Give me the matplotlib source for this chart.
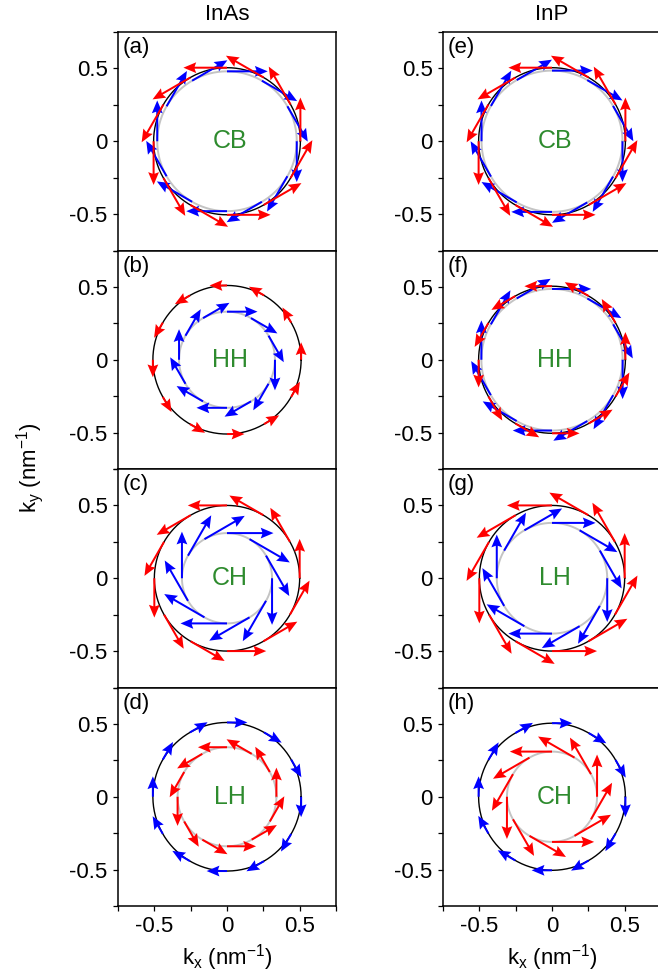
import numpy as np
import matplotlib
matplotlib.use("Agg")
import matplotlib.pyplot as plt
from matplotlib.ticker import FixedLocator

plt.rcParams['font.family'] = ['Liberation Sans', 'DejaVu Sans']
plt.rcParams['mathtext.default'] = 'regular'

# ---------------- data ----------------
# k-points (angle around the Fermi contour, degrees)
angles_deg = [0, 30, 60, 90, 120, 150, 180, 210, 240, 270, 300, 330]

panel_labels = ['(a)', '(b)', '(c)', '(d)', '(e)', '(f)', '(g)', '(h)']
band_names   = ['CB', 'HH', 'CH', 'LH', 'CB', 'HH', 'LH', 'CH']
column_titles = ['InAs', 'InP']

# Fermi contour radii (nm^-1)
black_radius = [0.505, 0.51, 0.50, 0.51, 0.505, 0.505, 0.50, 0.505]
gray_radius  = [0.48, 0.33, 0.31, 0.34, 0.485, 0.486, 0.38, 0.31]

# red spin arrows: contour radius, length, sense (+1 ccw, -1 cw)
red_radius = [0.505, 0.51, 0.50, 0.34, 0.505, 0.505, 0.50, 0.31]
red_length = [0.30, 0.12, 0.27, 0.20, 0.30, 0.19, 0.31, 0.29]
red_sense  = [1, 1, 1, 1, 1, 1, 1, 1]

# blue spin arrows
blue_radius = [0.48, 0.33, 0.31, 0.51, 0.485, 0.486, 0.38, 0.505]
blue_length = [0.28, 0.21, 0.32, 0.14, 0.28, 0.27, 0.30, 0.14]
blue_sense  = [-1, -1, -1, -1, -1, -1, -1, -1]

tick_major = [-0.5, 0, 0.5]
tick_major_labels = ['-0.5', '0', '0.5']
tick_minor = [-0.75, -0.25, 0.25, 0.75]

# ---------------- figure ----------------
W, H = 658, 973
fig = plt.figure(figsize=(W / 100, H / 100), dpi=100)

col_left = [118, 443]
ax_w = 218
row_top = [32, 250.5, 469, 687.5]
ax_h = 218.5

green = '#2e8b2e'
FS = 16

th = np.deg2rad(np.array(angles_deg, dtype=float))
phi = np.linspace(0, 2 * np.pi, 400)


def spin_arrows(ax, r, L, sense, color):
    x = r * np.cos(th)
    y = r * np.sin(th)
    u = -sense * L * np.sin(th)
    v = sense * L * np.cos(th)
    ax.quiver(x, y, u, v, color=color, angles='xy', scale_units='xy', scale=1,
              units='dots', width=2.0, headwidth=5.4, headlength=6.4,
              headaxislength=5.6, zorder=4 if color == 'red' else 3)


for c in range(2):
    for r in range(4):
        i = c * 4 + r
        left = col_left[c] / W
        bottom = 1 - (row_top[r] + ax_h) / H
        ax = fig.add_axes([left, bottom, ax_w / W, ax_h / H])
        ax.set_xlim(-0.75, 0.75)
        ax.set_ylim(-0.75, 0.75)

        ax.plot(gray_radius[i] * np.cos(phi), gray_radius[i] * np.sin(phi),
                color='#c4c4c4', lw=1.4, zorder=1)
        ax.plot(black_radius[i] * np.cos(phi), black_radius[i] * np.sin(phi),
                color='black', lw=1.0, zorder=2)

        spin_arrows(ax, blue_radius[i], blue_length[i], blue_sense[i], 'blue')
        spin_arrows(ax, red_radius[i], red_length[i], red_sense[i], 'red')

        ax.text(0.02, 0.0, band_names[i], color=green, fontsize=18,
                ha='center', va='center', zorder=5)
        ax.text(0.02, 0.975, panel_labels[i], transform=ax.transAxes,
                fontsize=FS, ha='left', va='top')

        ax.yaxis.set_major_locator(FixedLocator(tick_major))
        ax.yaxis.set_minor_locator(FixedLocator(tick_minor))
        ax.set_yticklabels(tick_major_labels)
        ax.xaxis.set_major_locator(FixedLocator(tick_major))
        ax.xaxis.set_minor_locator(FixedLocator(tick_minor))
        ax.tick_params(which='both', direction='out', length=3.5, width=0.9,
                       labelsize=FS, pad=4)
        if r == 3:
            ax.set_xticklabels(tick_major_labels)
            ax.tick_params(axis='x', which='both', pad=4)
        else:
            ax.tick_params(axis='x', which='both', bottom=False, labelbottom=False)
        for s in ax.spines.values():
            s.set_linewidth(1.1)

for c in range(2):
    xc = (col_left[c] + 109) / W
    fig.text(xc, 1 - 14 / H, column_titles[c], fontsize=FS, ha='center', va='center')
    fig.text(xc, 1 - 958 / H, r'k$_x$ (nm$^{-1}$)', fontsize=FS, ha='center', va='center')

fig.text(30 / W, 1 - 468 / H, r'k$_y$ (nm$^{-1}$)', fontsize=FS, rotation=90,
         ha='center', va='center')

fig.savefig('out.png', dpi=100)
